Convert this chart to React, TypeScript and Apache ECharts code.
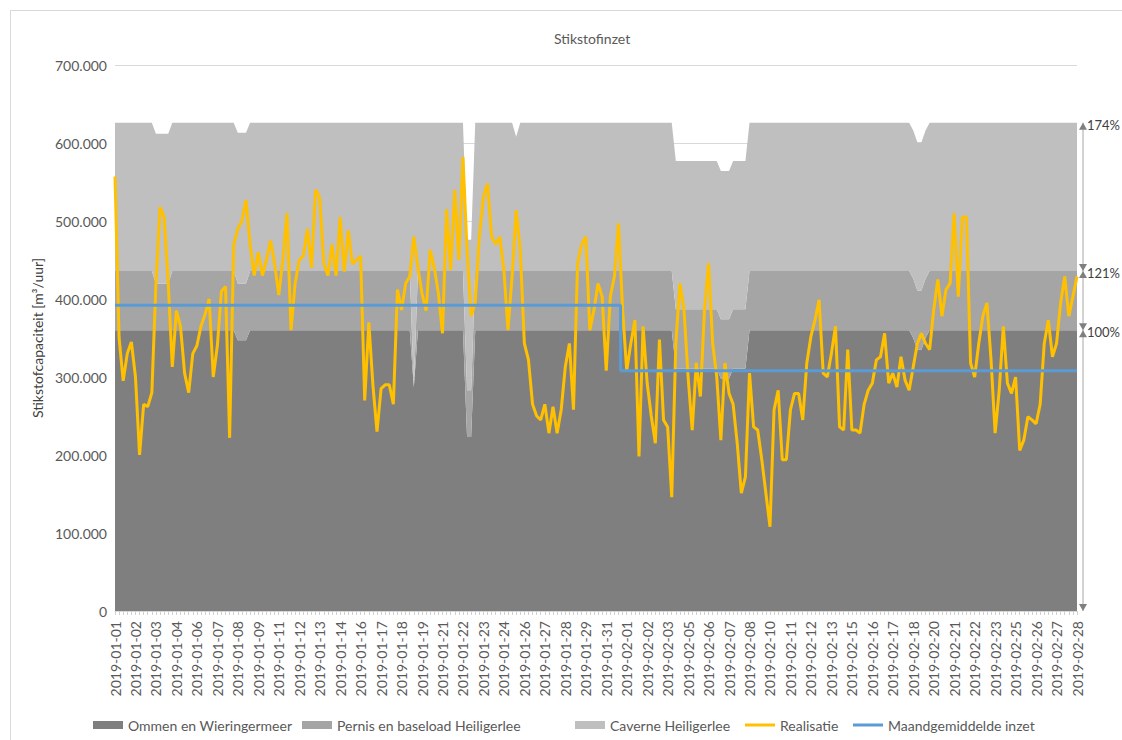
import React, { useEffect, useRef } from "react";
import * as echarts from "echarts";

const TITLE = "Stikstofinzet";
const Y_NAME = "Stikstofcapaciteit [m³/uur]";
const FONT = "Lato, 'Open Sans', sans-serif";

// 6-hourly categories, Jan + Feb 2019
const MONTHS = [
  { prefix: "2019-01", days: 31 },
  { prefix: "2019-02", days: 28 },
];
const HOURS = ["00", "06", "12", "18"];
const categories: string[] = [];
MONTHS.forEach((m) => {
  for (let d = 1; d <= m.days; d++) {
    const dd = String(d).padStart(2, "0");
    HOURS.forEach((h) => categories.push(`${m.prefix}-${dd} ${h}:00`));
  }
});

// capacity bands (thousand m³/uur), as runs [fromIndex, toIndex, value]
const ommenRuns: [number, number, number][] = [
  [0, 29, 360], [30, 32, 347], [33, 72, 360], [73, 73, 287], [74, 85, 360],
  [86, 87, 223], [88, 136, 360], [137, 147, 311], [148, 150, 298], [151, 154, 311],
  [155, 194, 360], [195, 195, 350], [196, 197, 335], [198, 198, 350], [199, 235, 360],
];
const pernisRuns: [number, number, number][] = [
  [0, 9, 76], [10, 13, 60], [14, 29, 76], [30, 32, 73], [33, 72, 76], [73, 73, 0],
  [74, 85, 76], [86, 87, 60], [88, 235, 76],
];
const caverneRuns: [number, number, number][] = [
  [0, 9, 190], [10, 13, 192], [14, 29, 190], [30, 32, 193], [33, 72, 190], [73, 73, 339],
  [74, 85, 190], [86, 87, 193], [88, 97, 190], [98, 98, 172], [99, 235, 190],
];

// Realisatie (thousand m³/uur), 6-hourly
const realisatie = [
  557, 350, 295, 330, 345, 300, 200, 265, 262, 280,
  420, 518, 505, 420, 313, 385, 365, 305, 280, 330,
  340, 365, 380, 400, 300, 340, 410, 416, 222, 470,
  490, 500, 527, 470, 430, 460, 430, 450, 475, 445,
  405, 450, 510, 360, 420, 450, 455, 490, 440, 540,
  530, 446, 430, 470, 430, 505, 435, 488, 445, 450,
  455, 270, 370, 290, 230, 285, 290, 290, 265, 412,
  386, 420, 429, 480, 440, 407, 385, 463, 440, 407,
  356, 515, 437, 540, 450, 582, 463, 378, 395, 480,
  531, 548, 480, 470, 480, 437, 360, 429, 514, 463,
  343, 322, 265, 250, 245, 265, 228, 262, 228, 258,
  313, 343, 258, 446, 470, 480, 360, 386, 420, 403,
  308, 403, 429, 497, 386, 308, 343, 373, 198, 365,
  292, 250, 215, 348, 245, 236, 146, 343, 420, 386,
  300, 232, 318, 275, 386, 446, 343, 300, 219, 318,
  279, 265, 215, 151, 172, 305, 236, 232, 194, 151,
  108, 258, 283, 194, 194, 258, 279, 279, 245, 318,
  352, 373, 399, 305, 300, 330, 365, 236, 232, 335,
  232, 232, 228, 265, 283, 292, 322, 326, 356, 292,
  305, 287, 326, 296, 283, 313, 343, 356, 343, 335,
  386, 425, 378, 412, 420, 510, 403, 505, 505, 318,
  300, 343, 378, 395, 322, 228, 283, 365, 292, 279,
  300, 206, 219, 249, 245, 240, 265, 343, 373, 326,
  343, 395, 429, 378, 403, 429,
];

// Maandgemiddelde inzet (thousand m³/uur)
const monthAverage: Record<string, number> = { "2019-01": 392, "2019-02": 308 };

const Y_TICKS = { min: 0, max: 700, interval: 100 };

const SERIES_NAMES = [
  "Ommen en Wieringermeer",
  "Pernis en baseload Heiligerlee",
  "Caverne Heiligerlee",
  "Realisatie",
  "Maandgemiddelde inzet",
];
const COLORS = ["#7f7f7f", "#a5a5a5", "#bfbfbf", "#ffc000", "#5b9bd5"];
const LEGEND_LEFT = [88, 297, 570, 740, 848];

function expand(runs: [number, number, number][]) {
  const out: number[] = [];
  runs.forEach(([a, b, v]) => {
    for (let i = a; i <= b; i++) out[i] = v;
  });
  return out;
}

export default function App() {
  const ref = useRef<HTMLDivElement>(null);
  useEffect(() => {
    if (!ref.current) return;
    const chart = echarts.init(ref.current, undefined, { renderer: "svg" });
    const ommen = expand(ommenRuns);
    const pernis = expand(pernisRuns);
    const caverne = expand(caverneRuns);
    const avg = categories.map((c) => monthAverage[c.slice(0, 7)]);

    const areaSeries = (i: number, data: number[]) => ({
      name: SERIES_NAMES[i],
      type: "line",
      stack: "cap",
      data,
      symbol: "none",
      showSymbol: false,
      lineStyle: { width: 0 },
      itemStyle: { color: COLORS[i] },
      areaStyle: { color: COLORS[i], opacity: 1 },
      z: 1,
    });

    const legendText = { fontFamily: FONT, fontSize: 14, color: "#595959" };
    const legends = SERIES_NAMES.map((name, i) => ({
      left: LEGEND_LEFT[i],
      top: 713,
      itemWidth: 30,
      itemHeight: i < 3 ? 8 : 3,
      textStyle: legendText,
      data: [{ name, icon: "rect" }],
    }));

    chart.setOption({
      animation: false,
      textStyle: { fontFamily: FONT },
      title: {
        text: TITLE,
        left: 549,
        top: 26,
        textStyle: { fontFamily: FONT, fontSize: 14, fontWeight: "normal", color: "#595959" },
      },
      legend: legends,
      grid: { left: 115, right: 45, top: 65, bottom: 129, containLabel: false },
      xAxis: {
        type: "category",
        data: categories,
        boundaryGap: false,
        axisLine: { lineStyle: { color: "#d9d9d9" } },
        axisTick: { show: true, interval: 0, length: 4, lineStyle: { color: "#d0d0d0" } },
        axisLabel: {
          interval: 4,
          rotate: 90,
          margin: 10,
          fontSize: 14,
          color: "#595959",
          fontFamily: FONT,
          formatter: (v: string) => v.slice(0, 10),
        },
        splitLine: { show: false },
      },
      yAxis: {
        type: "value",
        min: Y_TICKS.min,
        max: Y_TICKS.max,
        interval: Y_TICKS.interval,
        name: Y_NAME,
        nameLocation: "middle",
        nameGap: 70,
        nameTextStyle: { fontFamily: FONT, fontSize: 14, color: "#404040" },
        axisLine: { show: false },
        axisTick: { show: false },
        axisLabel: {
          fontSize: 14,
          color: "#595959",
          fontFamily: FONT,
          margin: 8,
          formatter: (v: number) => (v === 0 ? "0" : `${v}.000`),
        },
        splitLine: { lineStyle: { color: "#d9d9d9", width: 1 } },
      },
      series: [
        areaSeries(0, ommen),
        areaSeries(1, pernis),
        areaSeries(2, caverne),
        {
          name: SERIES_NAMES[3],
          type: "line",
          data: realisatie,
          symbol: "none",
          showSymbol: false,
          lineStyle: { width: 3, color: COLORS[3] },
          itemStyle: { color: COLORS[3] },
          z: 3,
        },
        {
          name: SERIES_NAMES[4],
          type: "line",
          data: avg,
          step: "middle",
          symbol: "none",
          showSymbol: false,
          lineStyle: { width: 3, color: COLORS[4] },
          itemStyle: { color: COLORS[4] },
          z: 4,
        },
      ],
    });

    // annotation of capacity levels at the right end
    const last = categories.length - 1;
    const base = ommen[last];
    const mid = base + pernis[last];
    const top = mid + caverne[last];
    const xEnd = chart.convertToPixel({ xAxisIndex: 0 }, categories[last]) as number;
    const yOf = (v: number) => chart.convertToPixel({ yAxisIndex: 0 }, v) as number;
    const xa = xEnd + 6;
    const y0 = yOf(0);
    const yTop = yOf(top);
    const yMid = yOf(mid);
    const yBase = yOf(base);
    const up = (y: number) => ({
      type: "polygon",
      shape: { points: [[xa - 4, y + 7], [xa + 4, y + 7], [xa, y]] },
      style: { fill: "#7f7f7f" },
    });
    const down = (y: number) => ({
      type: "polygon",
      shape: { points: [[xa - 4, y - 7], [xa + 4, y - 7], [xa, y]] },
      style: { fill: "#7f7f7f" },
    });
    const label = (y: number, v: number) => ({
      type: "text",
      x: xa + 4,
      y: y + 2,
      style: {
        text: `${Math.round((v / base) * 100)}%`,
        fill: "#404040",
        fontSize: 13,
        fontFamily: FONT,
        verticalAlign: "middle",
        align: "left",
      },
    });
    chart.setOption({
      graphic: [
        {
          type: "rect",
          shape: { x: 10.5, y: 10.5, width: 1150, height: 760 },
          style: { fill: "none", stroke: "#d9d9d9", lineWidth: 1 },
          silent: true,
        },
        {
          type: "line",
          shape: { x1: xa, y1: yTop, x2: xa, y2: y0 },
          style: { stroke: "#a6a6a6", lineWidth: 1 },
        },
        up(yTop),
        down(yMid),
        up(yMid),
        down(yBase),
        up(yBase),
        down(y0),
        label(yTop, top),
        label(yMid, mid),
        label(yBase, base),
      ],
    });

    return () => chart.dispose();
  }, []);

  return (
    <div
      ref={ref}
      style={{ position: "absolute", left: 0, top: 0, width: 1122, height: 740, background: "#fff" }}
    />
  );
}
